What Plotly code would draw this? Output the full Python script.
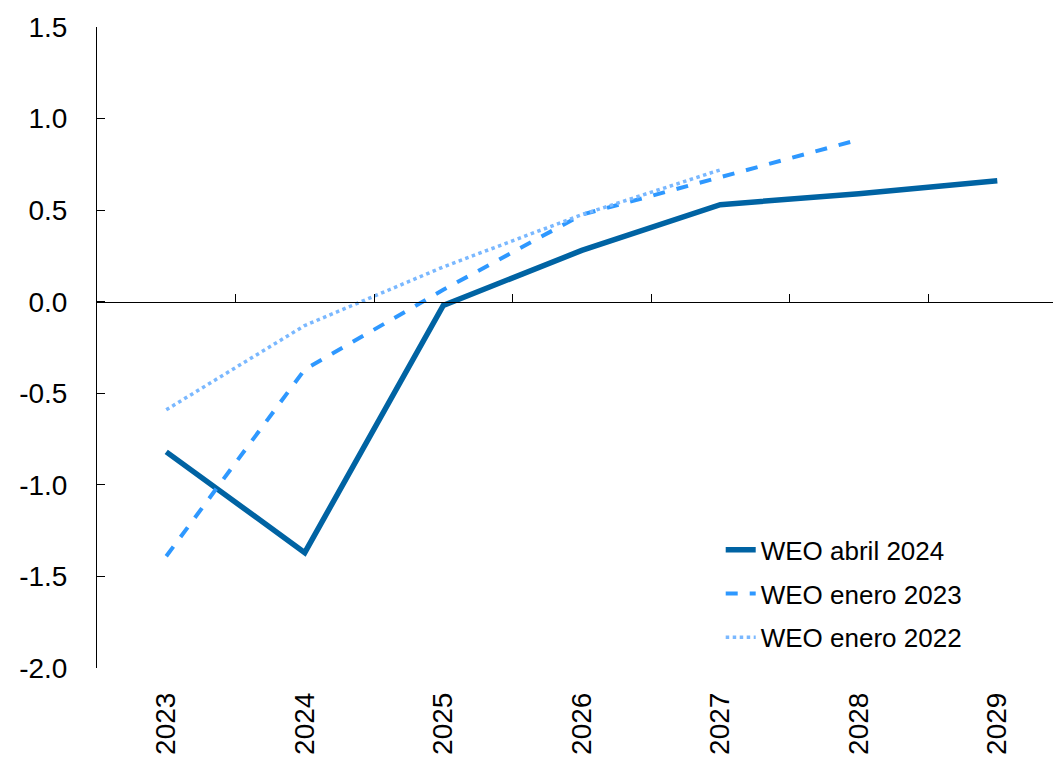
import plotly.graph_objects as go

years = ["2023", "2024", "2025", "2026", "2027", "2028", "2029"]
weo_abr_2024 = [-0.82, -1.37, -0.02, 0.28, 0.53, 0.59, 0.66]
weo_ene_2023 = [-1.39, -0.37, 0.065, 0.475, 0.68, 0.885]
weo_ene_2022 = [-0.59, -0.13, 0.19, 0.475, 0.72]
y_ticks = [-2.0, -1.5, -1.0, -0.5, 0.0, 0.5, 1.0, 1.5]
y_labels = ["-2.0", "-1.5", "-1.0", "-0.5", "0.0", "0.5", "1.0", "1.5"]

FONT = "Liberation Sans, Arial, sans-serif"

fig = go.Figure()

fig.add_trace(go.Scatter(x=years, y=weo_abr_2024, mode="lines", name="WEO abril 2024",
                         legendgroup="a", line=dict(color="#0063A3", width=5.5)))
fig.add_trace(go.Scatter(x=years[:6], y=weo_ene_2023, mode="lines", name="WEO enero 2023",
                         legendgroup="b", line=dict(color="#2E98FF", width=4, dash="dash")))
fig.add_trace(go.Scatter(x=years[:5], y=weo_ene_2022, mode="lines", name="WEO enero 2022",
                         legendgroup="c", line=dict(color="#7AB8FF", width=3.5, dash="dot")))

# invisible trace on xaxis2 so the zero-line axis shows up
fig.add_trace(go.Scatter(x=[0], y=[0], xaxis="x2", mode="markers", showlegend=False,
                         marker=dict(opacity=0), hoverinfo="skip"))

# page body adds an 8px offset, so size/margins are trimmed by that
fig.update_layout(
    width=1053, height=752,
    margin=dict(l=89, r=0, t=19, b=92),
    plot_bgcolor="white", paper_bgcolor="white",
    font=dict(family=FONT, size=28, color="black"),
    showlegend=True,
    legend=dict(x=0.647, y=0.221, xanchor="left", yanchor="top",
                bgcolor="rgba(0,0,0,0)", font=dict(size=26),
                tracegroupgap=7, itemwidth=30),
    xaxis=dict(range=[-0.5, 6.46], showline=False, showgrid=False, zeroline=False,
               tickangle=-90, ticks="", ticklabelstandoff=18, automargin=False,
               tickfont=dict(size=28)),
    xaxis2=dict(overlaying="x", anchor="free", position=2/3.5, range=[-0.5, 6.46],
                showline=True, linecolor="black", linewidth=1.2,
                tickvals=[0.5, 1.5, 2.5, 3.5, 4.5, 5.5], ticks="inside", ticklen=8,
                tickcolor="black", showticklabels=False, showgrid=False, zeroline=False),
    yaxis=dict(range=[-2.0, 1.5], tickvals=y_ticks, ticktext=y_labels, showline=True,
               linecolor="black", linewidth=1, ticks="inside", ticklen=8,
               tickcolor="black", showgrid=False, zeroline=False, automargin=False,
               ticklabelstandoff=23, tickfont=dict(size=28)),
)

fig.write_html("out.html")
